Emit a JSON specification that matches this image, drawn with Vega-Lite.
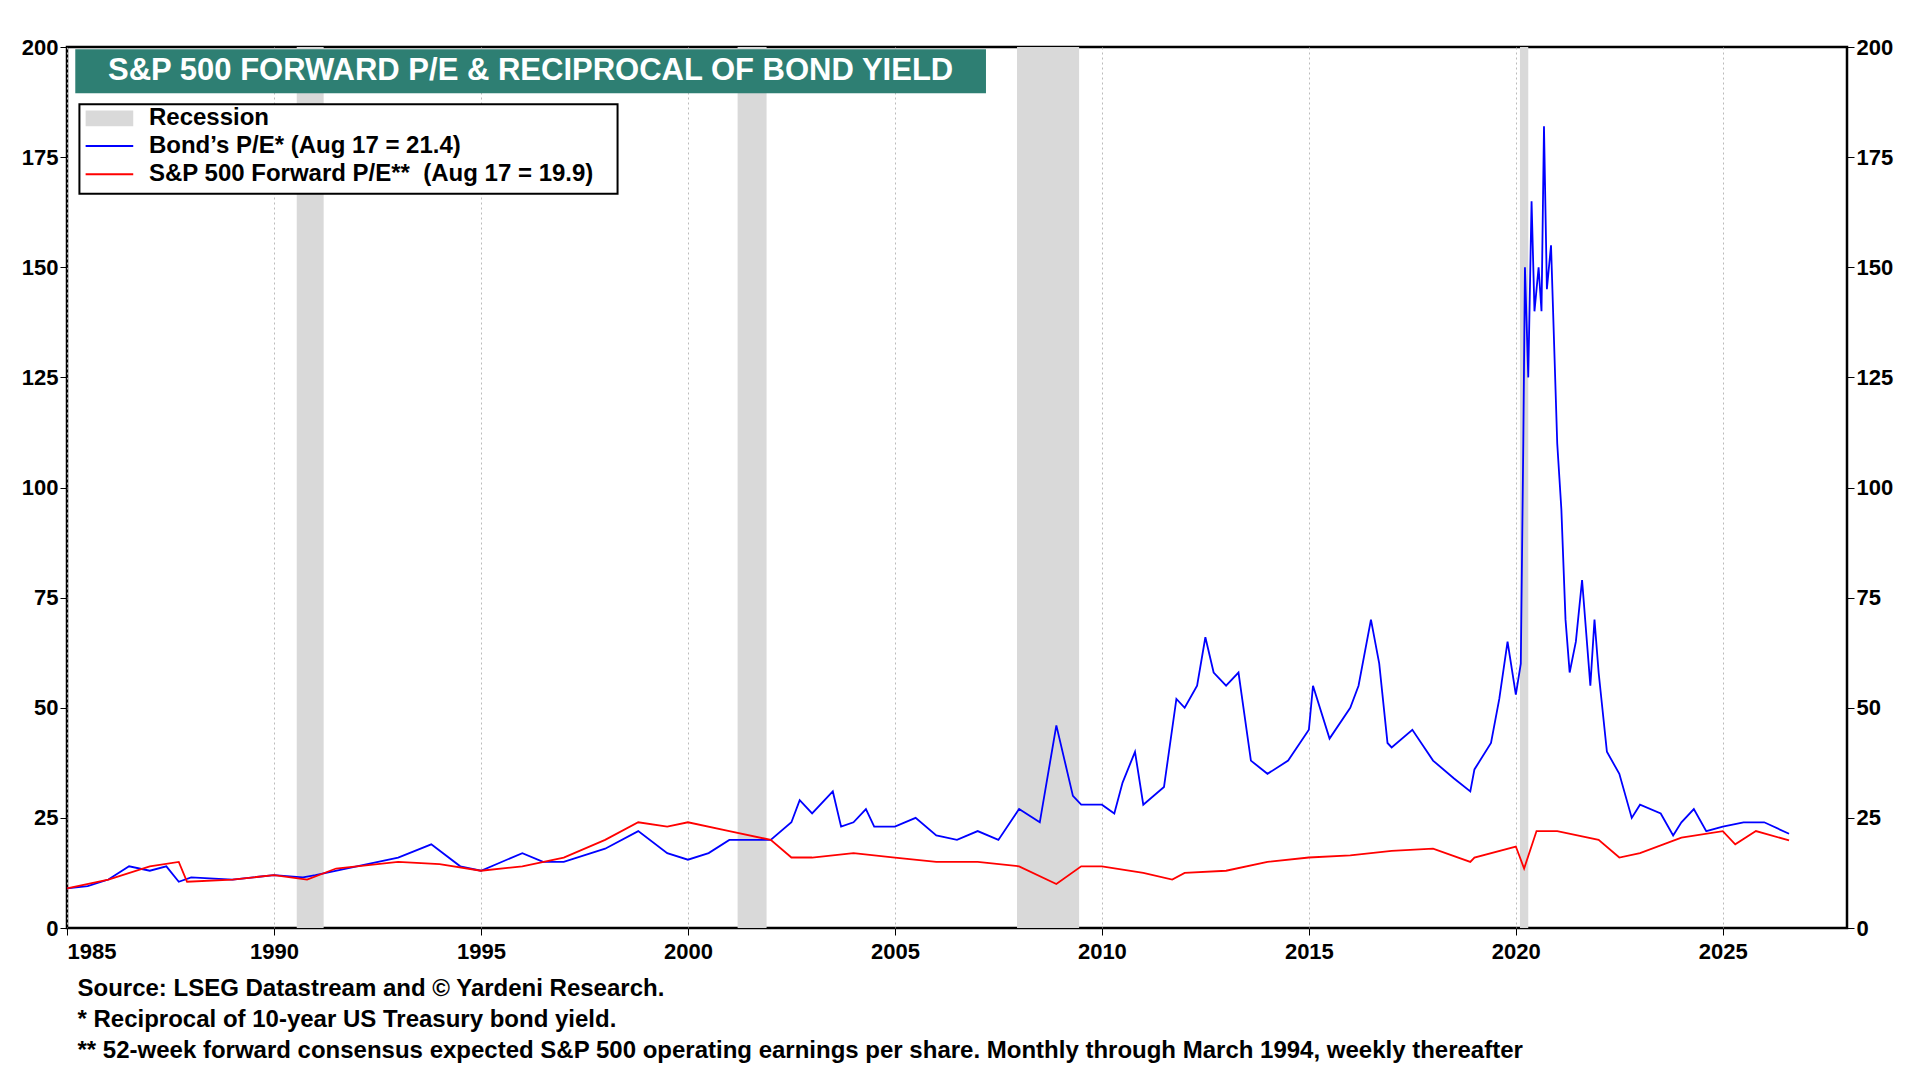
{
"$schema":"https://vega.github.io/schema/vega-lite/v6.json",
"autosize":"none","width":1780,"height":881,
"padding":{"left":67,"top":47,"right":73,"bottom":152},
"background":"white",
"config":{"font":"Liberation Sans","view":{"stroke":"black","strokeWidth":2.5},
 "axis":{"labelFont":"Liberation Sans","labelFontWeight":"bold","labelFontSize":22,"labelColor":"black","grid":true,"gridColor":"#bbbbbb","gridDash":[2,3],"domain":false,"tickColor":"black","tickSize":7}},
"datasets":{
"rec":[{"s":1990.55,"e":1991.2},{"s":2001.2,"e":2001.9},{"s":2007.95,"e":2009.45},{"s":2020.1,"e":2020.3}],
"bond":[{"t":1985,"v":9},{"t":1985.5,"v":9.5},{"t":1986,"v":11},{"t":1986.5,"v":14},{"t":1987,"v":13},{"t":1987.4,"v":14},{"t":1987.7,"v":10.5},{"t":1988,"v":11.5},{"t":1989,"v":11},{"t":1989.5,"v":11.5},{"t":1990,"v":12},{"t":1990.7,"v":11.5},{"t":1991,"v":12},{"t":1992,"v":14},{"t":1993,"v":16},{"t":1993.8,"v":19},{"t":1994.5,"v":14},{"t":1995,"v":13},{"t":1996,"v":17},{"t":1996.5,"v":15},{"t":1997,"v":15},{"t":1998,"v":18},{"t":1998.8,"v":22},{"t":1999.5,"v":17},{"t":2000,"v":15.5},{"t":2000.5,"v":17},{"t":2001,"v":20},{"t":2002,"v":20},{"t":2002.5,"v":24},{"t":2002.7,"v":29},{"t":2003,"v":26},{"t":2003.5,"v":31},{"t":2003.7,"v":23},{"t":2004,"v":24},{"t":2004.3,"v":27},{"t":2004.5,"v":23},{"t":2005,"v":23},{"t":2005.5,"v":25},{"t":2006,"v":21},{"t":2006.5,"v":20},{"t":2007,"v":22},{"t":2007.5,"v":20},{"t":2008,"v":27},{"t":2008.5,"v":24},{"t":2008.9,"v":46},{"t":2009.1,"v":38},{"t":2009.3,"v":30},{"t":2009.5,"v":28},{"t":2010,"v":28},{"t":2010.3,"v":26},{"t":2010.5,"v":33},{"t":2010.8,"v":40},{"t":2011,"v":28},{"t":2011.5,"v":32},{"t":2011.8,"v":52},{"t":2012,"v":50},{"t":2012.3,"v":55},{"t":2012.5,"v":66},{"t":2012.7,"v":58},{"t":2013,"v":55},{"t":2013.3,"v":58},{"t":2013.6,"v":38},{"t":2014,"v":35},{"t":2014.5,"v":38},{"t":2015,"v":45},{"t":2015.1,"v":55},{"t":2015.5,"v":43},{"t":2016,"v":50},{"t":2016.2,"v":55},{"t":2016.5,"v":70},{"t":2016.7,"v":60},{"t":2016.9,"v":42},{"t":2017,"v":41},{"t":2017.5,"v":45},{"t":2018,"v":38},{"t":2018.5,"v":34},{"t":2018.9,"v":31},{"t":2019,"v":36},{"t":2019.4,"v":42},{"t":2019.6,"v":52},{"t":2019.8,"v":65},{"t":2020,"v":53},{"t":2020.12,"v":60},{"t":2020.18,"v":110},{"t":2020.22,"v":150},{"t":2020.3,"v":125},{"t":2020.38,"v":165},{"t":2020.45,"v":140},{"t":2020.55,"v":150},{"t":2020.62,"v":140},{"t":2020.68,"v":182},{"t":2020.75,"v":145},{"t":2020.85,"v":155},{"t":2021,"v":110},{"t":2021.1,"v":95},{"t":2021.2,"v":70},{"t":2021.3,"v":58},{"t":2021.45,"v":65},{"t":2021.6,"v":79},{"t":2021.8,"v":55},{"t":2021.9,"v":70},{"t":2022,"v":58},{"t":2022.2,"v":40},{"t":2022.5,"v":35},{"t":2022.8,"v":25},{"t":2023,"v":28},{"t":2023.5,"v":26},{"t":2023.8,"v":21},{"t":2024,"v":24},{"t":2024.3,"v":27},{"t":2024.6,"v":22},{"t":2025,"v":23},{"t":2025.5,"v":24},{"t":2026,"v":24},{"t":2026.6,"v":21.4}],
"pe":[{"t":1985,"v":9},{"t":1986,"v":11},{"t":1987,"v":14},{"t":1987.7,"v":15},{"t":1987.9,"v":10.5},{"t":1989,"v":11},{"t":1990,"v":12},{"t":1990.8,"v":11},{"t":1991.5,"v":13.5},{"t":1992,"v":14},{"t":1993,"v":15},{"t":1994,"v":14.5},{"t":1995,"v":13},{"t":1996,"v":14},{"t":1997,"v":16},{"t":1998,"v":20},{"t":1998.8,"v":24},{"t":1999.5,"v":23},{"t":2000,"v":24},{"t":2001,"v":22},{"t":2002,"v":20},{"t":2002.5,"v":16},{"t":2003,"v":16},{"t":2004,"v":17},{"t":2005,"v":16},{"t":2006,"v":15},{"t":2007,"v":15},{"t":2008,"v":14},{"t":2008.9,"v":10},{"t":2009.5,"v":14},{"t":2010,"v":14},{"t":2011,"v":12.5},{"t":2011.7,"v":11},{"t":2012,"v":12.5},{"t":2013,"v":13},{"t":2014,"v":15},{"t":2015,"v":16},{"t":2016,"v":16.5},{"t":2017,"v":17.5},{"t":2018,"v":18},{"t":2018.9,"v":15},{"t":2019,"v":16},{"t":2020,"v":18.5},{"t":2020.2,"v":13.5},{"t":2020.5,"v":22},{"t":2021,"v":22},{"t":2022,"v":20},{"t":2022.5,"v":16},{"t":2023,"v":17},{"t":2024,"v":20.5},{"t":2025,"v":22},{"t":2025.3,"v":19},{"t":2025.8,"v":22},{"t":2026.6,"v":19.9}],
"leg":[{"x":1985.45,"x2":1986.6,"y":177.5,"c":"blue"},{"x":1985.45,"x2":1986.6,"y":171.1,"c":"red"}]
},
"encoding":{"x":{"type":"quantitative"},"y":{"type":"quantitative"}},
"resolve":{"axis":{"y":"independent"}},
"layer":[
{"data":{"name":"rec"},"mark":{"type":"rect","color":"#d9d9d9"},
 "encoding":{"x":{"field":"s","type":"quantitative","scale":{"domain":[1985,2028],"nice":false,"zero":false},
  "axis":{"values":[1985,1990,1995,2000,2005,2010,2015,2020,2025],"format":"d","labelPadding":6,
  "title":["Source: LSEG Datastream and © Yardeni Research.","* Reciprocal of 10-year US Treasury bond yield.","** 52-week forward consensus expected S&P 500 operating earnings per share. Monthly through March 1994, weekly thereafter"],
  "titleAnchor":"start","titleAlign":"left","titleFontSize":24,"titleFontWeight":"bold","titleLineHeight":31,"titlePadding":14,"titleX":10,"titleBaseline":"top"}},
  "x2":{"field":"e"},"y":{"datum":0,"type":"quantitative","scale":{"domain":[0,200],"nice":false},"axis":null},"y2":{"datum":200}}},
{"data":{"name":"bond"},"mark":{"type":"line","color":"#0000ff","strokeWidth":1.8},
 "encoding":{"x":{"field":"t","type":"quantitative"},"y":{"field":"v","type":"quantitative","title":null,"axis":{"orient":"left","values":[0,25,50,75,100,125,150,175,200]}}}},
{"data":{"name":"pe"},"mark":{"type":"line","color":"#ff0000","strokeWidth":1.8},
 "encoding":{"x":{"field":"t","type":"quantitative"},"y":{"field":"v","type":"quantitative","title":null,"axis":{"orient":"right","values":[0,25,50,75,100,125,150,175,200],"grid":false}}}},
{"data":{"values":[{"a":1985.2,"b":2007.2,"c":189.5,"d":199.5}]},"mark":{"type":"rect","color":"#2e7f73"},
 "encoding":{"x":{"field":"a","type":"quantitative"},"x2":{"field":"b"},"y":{"field":"c","type":"quantitative","axis":null},"y2":{"field":"d"}}},
{"data":{"values":[{"x":1996.2,"y":194.5,"t":"S&P 500 FORWARD P/E & RECIPROCAL OF BOND YIELD"}]},"mark":{"type":"text","color":"white","fontSize":31,"fontWeight":"bold","align":"center","baseline":"middle"},
 "encoding":{"x":{"field":"x","type":"quantitative"},"y":{"field":"y","type":"quantitative","axis":null},"text":{"field":"t"}}},
{"data":{"values":[{"a":1985.3,"b":1998.3,"c":166.7,"d":187}]},"mark":{"type":"rect","fill":"white","stroke":"black","strokeWidth":2},
 "encoding":{"x":{"field":"a","type":"quantitative"},"x2":{"field":"b"},"y":{"field":"c","type":"quantitative","axis":null},"y2":{"field":"d"}}},
{"data":{"values":[{"a":1985.45,"b":1986.6,"c":182,"d":185.6}]},"mark":{"type":"rect","color":"#d9d9d9"},
 "encoding":{"x":{"field":"a","type":"quantitative"},"x2":{"field":"b"},"y":{"field":"c","type":"quantitative","axis":null},"y2":{"field":"d"}}},
{"data":{"name":"leg"},"mark":{"type":"rule","strokeWidth":2},
 "encoding":{"x":{"field":"x","type":"quantitative"},"x2":{"field":"x2"},"y":{"field":"y","type":"quantitative","axis":null},"color":{"field":"c","type":"nominal","scale":null}}},
{"data":{"values":[{"y":183.8,"t":"Recession"},{"y":177.5,"t":"Bond’s P/E* (Aug 17 = 21.4)"},{"y":171.1,"t":"S&P 500 Forward P/E**\u00a0 (Aug 17 = 19.9)"}]},"mark":{"type":"text","fontSize":24,"fontWeight":"bold","align":"left","baseline":"middle","color":"black"},
 "encoding":{"x":{"datum":1986.98,"type":"quantitative"},"y":{"field":"y","type":"quantitative","axis":null},"text":{"field":"t"}}}
]}
